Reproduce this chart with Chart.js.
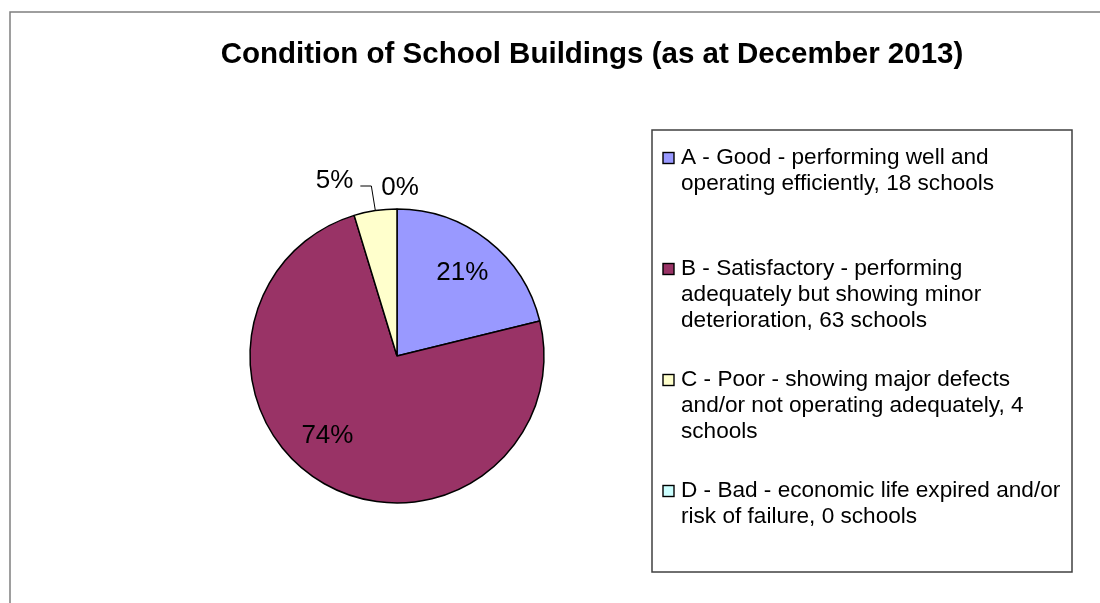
<!DOCTYPE html>
<html>
<head>
<meta charset="utf-8">
<script src="https://cdn.jsdelivr.net/npm/chart.js@4.4.0/dist/chart.umd.min.js"></script>
<style>
html, body { margin: 0; padding: 0; background: #fff; }
#wrap { position: relative; width: 1100px; height: 603px; }
</style>
</head>
<body>
<div id="wrap"><canvas id="pie" width="1100" height="603"></canvas></div>
<script>
const chartTitle = 'Condition of School Buildings (as at December 2013)';
const categories = [
  ['A - Good - performing well and', 'operating efficiently, 18 schools'],
  ['B - Satisfactory - performing', 'adequately but showing minor', 'deterioration, 63 schools'],
  ['C - Poor - showing major defects', 'and/or not operating adequately, 4', 'schools'],
  ['D - Bad - economic life expired and/or', 'risk of failure, 0 schools']
];
const schools = [18, 63, 4, 0];
const colours = ['#9999ff', '#993366', '#ffffcc', '#ccffff'];

const FONT = "'Liberation Sans', Arial, sans-serif";

// outer frame + title
const frame = {
  id: 'frame',
  beforeDraw(chart) {
    const c = chart.ctx;
    c.save();
    c.fillStyle = '#fff';
    c.fillRect(0, 0, chart.width, chart.height);
    c.strokeStyle = '#7f7f7f';
    c.lineWidth = 1.5;
    c.beginPath();
    c.moveTo(10, chart.height);
    c.lineTo(10, 12);
    c.lineTo(chart.width, 12);
    c.stroke();
    c.fillStyle = '#000';
    c.font = 'bold 29.5px ' + FONT;
    c.textAlign = 'center';
    c.textBaseline = 'middle';
    c.fillText(chartTitle, 592, 55);
    c.restore();
  }
};

// percentage labels, small slices go outside
const pctLabels = {
  id: 'pctLabels',
  afterDatasetsDraw(chart) {
    const c = chart.ctx;
    const total = schools.reduce((a, b) => a + b, 0);
    const arcs = chart.getDatasetMeta(0).data;
    c.save();
    c.fillStyle = '#000';
    c.strokeStyle = '#000';
    c.lineWidth = 1;
    c.font = '26px ' + FONT;
    c.textBaseline = 'middle';
    arcs.forEach((a, i) => {
      const p = a.getProps(['x', 'y', 'startAngle', 'endAngle', 'outerRadius'], true);
      let mid = (p.startAngle + p.endAngle) / 2;
      const pct = Math.round(schools[i] / total * 100);
      const txt = pct + '%';
      if (pct >= 10) {
        // big slices: pull the label a bit toward the slice's far side
        if (pct > 50) mid += 0.2;
        const d = p.outerRadius * 0.72;
        c.textAlign = 'center';
        c.fillText(txt, p.x + Math.cos(mid) * d, p.y + Math.sin(mid) * d);
      } else if (schools[i] === 0) {
        const d = p.outerRadius + 21;
        c.textAlign = 'center';
        c.fillText(txt, p.x + Math.cos(mid) * d + 3, p.y + Math.sin(mid) * d);
      } else {
        const ex = p.x + Math.cos(mid) * p.outerRadius;
        const ey = p.y + Math.sin(mid) * p.outerRadius;
        const ky = p.y - p.outerRadius - 23;
        const kx = ex - 4;
        c.beginPath();
        c.moveTo(ex, ey);
        c.lineTo(kx, ky);
        c.lineTo(kx - 11, ky);
        c.stroke();
        c.textAlign = 'right';
        c.fillText(txt, kx - 18, ky - 5);
      }
    });
    c.restore();
  }
};

// boxed legend on the right
const boxLegend = {
  id: 'boxLegend',
  afterDraw(chart) {
    const c = chart.ctx;
    const bx = 652, by = 130, bw = 420, bh = 442;
    c.save();
    c.strokeStyle = '#404040';
    c.lineWidth = 1.5;
    c.strokeRect(bx, by, bw, bh);
    c.font = '22.6px ' + FONT;
    c.textAlign = 'left';
    c.textBaseline = 'middle';
    categories.forEach((lines, i) => {
      const y0 = by + 28 + i * 111;
      c.fillStyle = colours[i];
      c.fillRect(bx + 11, y0 - 5.5, 11, 11);
      c.strokeStyle = '#000';
      c.lineWidth = 1.4;
      c.strokeRect(bx + 11, y0 - 5.5, 11, 11);
      c.fillStyle = '#000';
      lines.forEach((t, j) => c.fillText(t, bx + 29, y0 + j * 26));
    });
    c.restore();
  }
};

new Chart(document.getElementById('pie'), {
  type: 'pie',
  data: {
    labels: categories,
    datasets: [{
      data: schools,
      backgroundColor: colours,
      borderColor: '#000',
      borderWidth: 1.5,
      radius: 147
    }]
  },
  options: {
    responsive: false,
    animation: false,
    layout: { padding: { left: 247, right: 553, top: 206, bottom: 97 } },
    plugins: {
      legend: { display: false },
      tooltip: { enabled: false }
    }
  },
  plugins: [frame, pctLabels, boxLegend]
});
</script>
</body>
</html>
